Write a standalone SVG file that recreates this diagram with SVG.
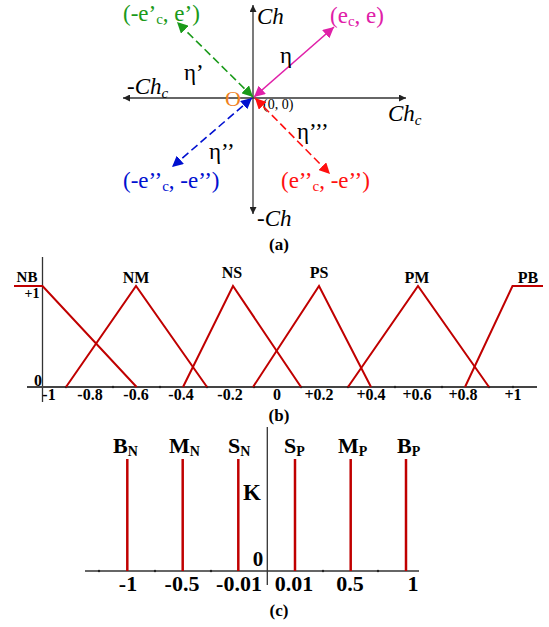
<svg xmlns="http://www.w3.org/2000/svg" width="549" height="627" viewBox="0 0 549 627">
<style>
.t{font-family:"Liberation Serif",serif}
.b{font-family:"Liberation Serif",serif;font-weight:bold}
.ax{stroke:#333;stroke-width:1.3;fill:none}
.mf{stroke:#c00000;stroke-width:2;fill:none}
.st{stroke:#c00000;stroke-width:2.5}
</style>
<defs>
<marker id="ak" viewBox="0 0 10 10" refX="10" refY="5" markerWidth="7" markerHeight="7" markerUnits="userSpaceOnUse" orient="auto"><path d="M0,0 L10,5 L0,10 z" fill="#222"/></marker>
<marker id="am" viewBox="0 0 10 10" refX="10" refY="5" markerWidth="11" markerHeight="11" markerUnits="userSpaceOnUse" orient="auto-start-reverse"><path d="M0,0 L10,5 L0,10 z" fill="#e020a8"/></marker>
<marker id="ag" viewBox="0 0 10 10" refX="10" refY="5" markerWidth="11" markerHeight="11" markerUnits="userSpaceOnUse" orient="auto-start-reverse"><path d="M0,0 L10,5 L0,10 z" fill="#1a9a1a"/></marker>
<marker id="ab" viewBox="0 0 10 10" refX="10" refY="5" markerWidth="11" markerHeight="11" markerUnits="userSpaceOnUse" orient="auto-start-reverse"><path d="M0,0 L10,5 L0,10 z" fill="#0010d0"/></marker>
<marker id="ar" viewBox="0 0 10 10" refX="10" refY="5" markerWidth="11" markerHeight="11" markerUnits="userSpaceOnUse" orient="auto-start-reverse"><path d="M0,0 L10,5 L0,10 z" fill="#ff1010"/></marker>
</defs>

<!-- (a) -->
<g id="axes-a">
<line class="ax" x1="253" y1="97" x2="253" y2="5" marker-end="url(#ak)"/>
<line class="ax" x1="253" y1="97" x2="253" y2="214" marker-end="url(#ak)"/>
<line class="ax" x1="253" y1="98" x2="123" y2="98" marker-end="url(#ak)"/>
<line class="ax" x1="253" y1="98" x2="406" y2="98" marker-end="url(#ak)"/>
<text class="t" x="257" y="24" font-size="23" font-style="italic">Ch</text>
<text class="t" x="127" y="94" font-size="23" font-style="italic">-Ch<tspan font-size="15" dy="4">c</tspan></text>
<text class="t" x="388" y="121" font-size="23" font-style="italic">Ch<tspan font-size="15" dy="4">c</tspan></text>
<text class="t" x="257" y="226" font-size="23" font-style="italic">-Ch</text>
<text class="t" x="225" y="106" font-size="22" fill="#f08020">O</text>
<text class="t" x="263" y="109" font-size="14">(0, 0)</text>
<text class="b" x="279" y="250" font-size="17" text-anchor="middle">(a)</text>
</g>
<g id="connectors-a">
<line x1="254" y1="97" x2="334" y2="27" stroke="#e020a8" stroke-width="1.6" marker-start="url(#am)" marker-end="url(#am)"/>
<line x1="253" y1="97" x2="177" y2="22" stroke="#1a9a1a" stroke-width="1.6" stroke-dasharray="8,4" marker-start="url(#ag)" marker-end="url(#ag)"/>
<line x1="252" y1="98" x2="172" y2="167" stroke="#0010d0" stroke-width="1.6" stroke-dasharray="8,4" marker-start="url(#ab)" marker-end="url(#ab)"/>
<line x1="255" y1="98" x2="330" y2="174" stroke="#ff1010" stroke-width="1.6" stroke-dasharray="8,4" marker-start="url(#ar)" marker-end="url(#ar)"/>
</g>
<g id="label-ec">
<text class="t" x="330" y="23" font-size="23" fill="#e020a8">(e<tspan font-size="15" dy="3">c</tspan><tspan dy="-3">, e)</tspan></text>
<text class="t" x="280" y="63" font-size="23">η</text>
</g>
<g id="label-ec1">
<text class="t" x="123" y="21" font-size="23" fill="#1a9a1a">(-e’<tspan font-size="15" dy="3">c</tspan><tspan dy="-3">, e’)</tspan></text>
<text class="t" x="184" y="80" font-size="23">η’</text>
</g>
<g id="label-ec2">
<text class="t" x="123" y="188" font-size="23" fill="#0010d0">(-e’’<tspan font-size="15" dy="3">c</tspan><tspan dy="-3">, -e’’)</tspan></text>
<text class="t" x="209" y="159" font-size="23">η’’</text>
</g>
<g id="label-ec3">
<text class="t" x="281" y="188" font-size="23" fill="#ff1010">(e’’<tspan font-size="15" dy="3">c</tspan><tspan dy="-3">, -e’’)</tspan></text>
<text class="t" x="297" y="139" font-size="23">η’’’</text>
</g>

<!-- (b) -->
<g id="axes-b">
<line class="ax" x1="42.5" y1="257" x2="42.5" y2="402" stroke-width="1.5"/>
<line x1="27" y1="387" x2="537" y2="387" stroke="#444" stroke-width="2"/>
<g fill="#222">
<circle cx="66" cy="387" r="1.2"/><circle cx="113" cy="387" r="1.2"/><circle cx="160" cy="387" r="1.2"/><circle cx="207" cy="387" r="1.2"/><circle cx="254" cy="387" r="1.2"/><circle cx="301" cy="387" r="1.2"/><circle cx="348" cy="387" r="1.2"/><circle cx="395" cy="387" r="1.2"/><circle cx="442" cy="387" r="1.2"/><circle cx="489" cy="387" r="1.2"/><circle cx="513" cy="387" r="1.2"/>
</g>
<g class="b" font-size="16" text-anchor="middle">
<text x="49" y="400">-1</text>
<text x="90" y="400">-0.8</text>
<text x="136" y="400">-0.6</text>
<text x="181" y="400">-0.4</text>
<text x="230" y="400">-0.2</text>
<text x="277" y="400">0</text>
<text x="319" y="400">+0.2</text>
<text x="371" y="400">+0.4</text>
<text x="417" y="400">+0.6</text>
<text x="463" y="400">+0.8</text>
<text x="513" y="400">+1</text>
<text x="38" y="386">0</text>
<text x="32" y="298" font-size="14">+1</text>
</g>
<text class="b" x="279" y="421" font-size="17" text-anchor="middle">(b)</text>
</g>
<g id="mf-NB"><polyline class="mf" points="14,286 42.5,286 136.6,387"/><text class="b" x="27" y="282" font-size="15" text-anchor="middle">NB</text></g>
<g id="mf-NM"><polyline class="mf" points="66,387 136,286 207,387"/><text class="b" x="136" y="283" font-size="16" text-anchor="middle">NM</text></g>
<g id="mf-NS"><polyline class="mf" points="183,387 233,286 301,387"/><text class="b" x="232" y="278" font-size="16" text-anchor="middle">NS</text></g>
<g id="mf-PS"><polyline class="mf" points="253,387 319,286 371,387"/><text class="b" x="319" y="278" font-size="16" text-anchor="middle">PS</text></g>
<g id="mf-PM"><polyline class="mf" points="348,387 418,286 489,387"/><text class="b" x="417" y="283" font-size="16" text-anchor="middle">PM</text></g>
<g id="mf-PB"><polyline class="mf" points="465,387 512.5,286 543,286"/><text class="b" x="528" y="283" font-size="16" text-anchor="middle">PB</text></g>

<!-- (c) -->
<g id="axes-c">
<line class="ax" x1="267.3" y1="427" x2="267.3" y2="585" stroke-width="1.2"/>
<line x1="85" y1="571" x2="419" y2="571" stroke="#333" stroke-width="1.5"/>
<g fill="#222">
<circle cx="99" cy="571" r="1.2"/><circle cx="155" cy="571" r="1.2"/><circle cx="211" cy="571" r="1.2"/><circle cx="323" cy="571" r="1.2"/><circle cx="378" cy="571" r="1.2"/>
</g>
<g class="b" font-size="22" text-anchor="middle">
<text x="128" y="591">-1</text>
<text x="182" y="591">-0.5</text>
<text x="239" y="591">-0.01</text>
<text x="294" y="591">0.01</text>
<text x="350" y="591">0.5</text>
<text x="413" y="591">1</text>
<text x="258" y="566" font-size="21">0</text>
<text x="252" y="500" font-size="23">K</text>
</g>
<text class="b" x="279" y="616" font-size="17" text-anchor="middle">(c)</text>
</g>
<g id="stem-BN"><line class="st" x1="127.3" y1="459" x2="127.3" y2="571"/><text class="b" x="113" y="453" font-size="22">B<tspan font-size="14" dy="3">N</tspan></text></g>
<g id="stem-MN"><line class="st" x1="182.7" y1="459" x2="182.7" y2="571"/><text class="b" x="169" y="453" font-size="22">M<tspan font-size="14" dy="3">N</tspan></text></g>
<g id="stem-SN"><line class="st" x1="238.3" y1="459" x2="238.3" y2="571"/><text class="b" x="228" y="453" font-size="22">S<tspan font-size="14" dy="3">N</tspan></text></g>
<g id="stem-SP"><line class="st" x1="295" y1="459" x2="295" y2="571"/><text class="b" x="284" y="453" font-size="22">S<tspan font-size="14" dy="3">P</tspan></text></g>
<g id="stem-MP"><line class="st" x1="350.7" y1="459" x2="350.7" y2="571"/><text class="b" x="338" y="453" font-size="22">M<tspan font-size="14" dy="3">P</tspan></text></g>
<g id="stem-BP"><line class="st" x1="406" y1="459" x2="406" y2="571"/><text class="b" x="397" y="453" font-size="22">B<tspan font-size="14" dy="3">P</tspan></text></g>
</svg>
